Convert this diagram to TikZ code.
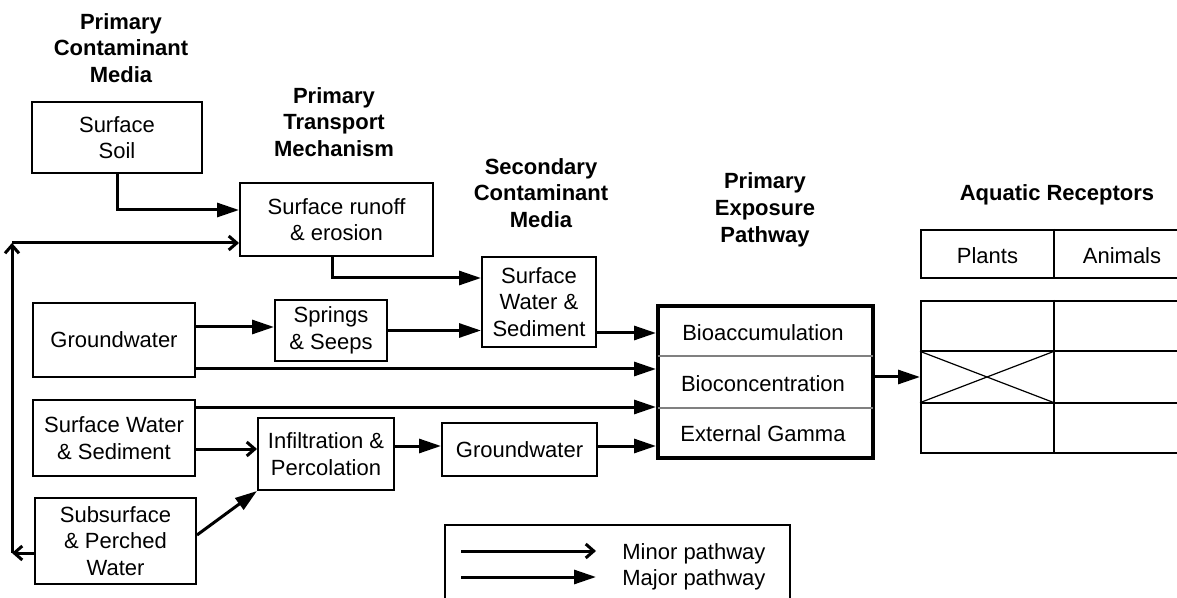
\documentclass[tikz,border=0pt]{standalone}
\usepackage{fontspec}
\setmainfont{Liberation Sans}
\usetikzlibrary{arrows.meta,calc}
\begin{document}
\begin{tikzpicture}[x=0.5pt,y=-0.5pt,
  txt/.style={font=\fontsize{11}{13.2}\selectfont, align=center, inner sep=0pt},
  hdr/.style={txt, font=\fontsize{11}{13.4}\selectfont\bfseries},
  box/.style={txt, draw, line width=1pt},
  frame/.style={draw, line width=1pt, inner sep=0pt},
  link/.style={line width=1.5pt},
  major/.style={link, -{Triangle[length=11pt,width=7pt]}},
  minor/.style={link, -{Straight Barb[length=4pt,width=7pt]}},
  divider/.style={gray, line width=0.6pt, shorten <=1pt, shorten >=1pt},
  ]
\useasboundingbox (0,0) rectangle (1177,598);
\clip (0,0) rectangle (1177,598);

% column headings
\node[hdr] (hPCM) at (121,48)   {Primary\\Contaminant\\Media};
\node[hdr] (hPTM) at (334,122)  {Primary\\Transport\\Mechanism};
\node[hdr] (hSCM) at (541,193)  {Secondary\\Contaminant\\Media};
\node[hdr] (hPEP) at (765,210)  {Primary\\Exposure\\Pathway};
\node[hdr] (hAR)  at (1057,195) {Aquatic Receptors};

% media and transport boxes
\node[box, minimum width=85pt,   minimum height=35.5pt] (soil)    at (117,137.5)  {Surface\\Soil};
\node[box, minimum width=96.5pt, minimum height=36.5pt] (runoff)  at (336.5,219.5) {Surface runoff\\\& erosion};
\node[box, minimum width=57pt,   minimum height=45pt]   (sec)     at (539,302)    {Surface\\Water \&\\Sediment};
\node[box, minimum width=81pt,   minimum height=37pt]   (gw)      at (114,340)    {Groundwater};
\node[box, minimum width=56pt,   minimum height=30.5pt] (springs) at (331,330.5)  {Springs\\\& Seeps};
\node[box, minimum width=81pt,   minimum height=38pt]   (sws)     at (114,438)    {Surface Water\\\& Sediment};
\node[box, minimum width=68pt,   minimum height=36pt]   (infil)   at (326,454)    {Infiltration \&\\Percolation};
\node[box, minimum width=77.5pt, minimum height=26.5pt] (gw2)     at (519.5,449.5) {Groundwater};
\node[box, minimum width=80.5pt, minimum height=43pt]   (subs)    at (115.5,541)  {Subsurface\\\& Perched\\Water};

% exposure pathway box
\node[draw, line width=2pt, minimum width=107.5pt, minimum height=76pt, inner sep=0pt] (expo) at (765.5,382) {};
\draw[divider] ($(expo.north west)!1/3!(expo.south west)$) -- ($(expo.north east)!1/3!(expo.south east)$);
\draw[divider] ($(expo.north west)!2/3!(expo.south west)$) -- ($(expo.north east)!2/3!(expo.south east)$);
\node[txt] (bacc) at (763,333) {Bioaccumulation};
\node[txt] (bcon) at (763,384) {Bioconcentration};
\node[txt] (extg) at (763,434) {External Gamma};

% receptor table
\node[frame, minimum width=133pt, minimum height=24pt] (rhead) at (1054,254) {};
\draw[line width=1pt] (rhead.north) -- (rhead.south);
\node[txt] (plants)  at (987.5,256) {Plants};
\node[txt] (animals) at (1122,256) {Animals};

\node[frame, minimum width=133pt, minimum height=76pt] (grid) at (1054,377) {};
\draw[line width=1pt] (grid.north) -- (grid.south);
\draw[line width=1pt] ($(grid.north west)!1/3!(grid.south west)$) -- ($(grid.north east)!1/3!(grid.south east)$);
\draw[line width=1pt] ($(grid.north west)!2/3!(grid.south west)$) -- ($(grid.north east)!2/3!(grid.south east)$);
\draw[line width=0.6pt] ($(grid.north west)!1/3!(grid.south west)$) -- ($(grid.north)!2/3!(grid.south)$);
\draw[line width=0.6pt] ($(grid.north west)!2/3!(grid.south west)$) -- ($(grid.north)!1/3!(grid.south)$);

% pathways
\draw[major] (soil.south) |- ([yshift=4.75pt]runoff.west);
\coordinate (fbB) at (12,553);
\coordinate (fbT) at (12,243);
\draw[minor] ([yshift=-6pt]subs.west) -- (fbB);
\draw[minor] (fbB) -- (fbT);
\draw[minor] (fbT) -- ([yshift=-11.75pt]runoff.west);
\draw[major] ([xshift=-2.25pt]runoff.south) |- ([yshift=12pt]sec.west);
\draw[major] ([yshift=6.5pt]gw.east) -- ([yshift=1.75pt]springs.west);
\draw[major] (springs.east) -- ([yshift=-14.25pt]sec.west);
\draw[major] ([yshift=-15.5pt]sec.east) -- ([yshift=24.5pt]expo.west);
\draw[major] ([yshift=-14.5pt]gw.east) -- ([yshift=6.5pt]expo.west);
\draw[major] ([yshift=15.5pt]sws.east) -- ([yshift=-12.5pt]expo.west);
\draw[minor] ([yshift=-5.5pt]sws.east) -- ([yshift=2.5pt]infil.west);
\draw[major] ([yshift=4pt]infil.east) -- ([yshift=1.75pt]gw2.west);
\draw[major] ([yshift=1.75pt]gw2.east) -- ([yshift=-32pt]expo.west);
\draw[major] ([yshift=3pt]subs.east) -- (infil.south west);
\draw[major] ([yshift=2.5pt]expo.east) -- (grid.west);

% legend
\node[frame, minimum width=172.5pt, minimum height=45pt] (legend) at (617.5,570) {};
\coordinate (mn1) at (461,551);
\coordinate (mn2) at (596,551);
\coordinate (mj1) at (461,577);
\coordinate (mj2) at (596,577);
\draw[minor] (mn1) -- (mn2);
\draw[major] (mj1) -- (mj2);
\node[txt, anchor=base west] (lmin) at (622,559) {Minor pathway};
\node[txt, anchor=base west] (lmaj) at (622,585) {Major pathway};
\end{tikzpicture}
\end{document}
